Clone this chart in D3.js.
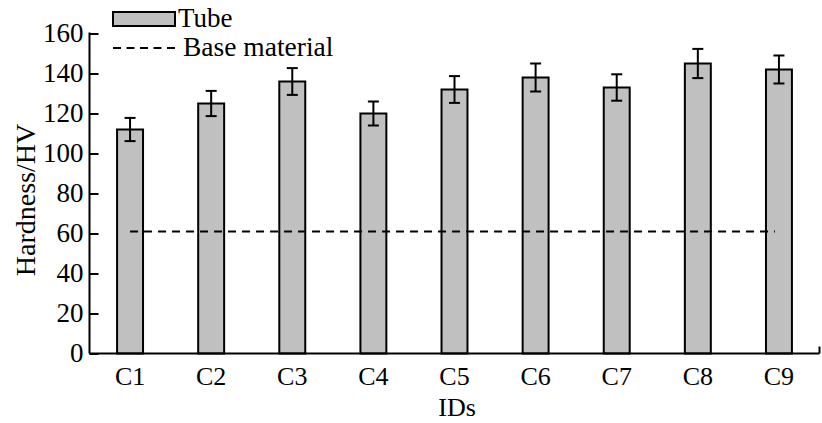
<!DOCTYPE html>
<html>
<head>
<meta charset="utf-8">
<script src="https://cdn.jsdelivr.net/npm/d3@7"></script>
<style>
  html, body { margin: 0; padding: 0; background: #fff; }
  svg { display: block; font-family: "Liberation Serif", "DejaVu Serif", serif; }
</style>
</head>
<body>
<svg id="chart" width="822" height="423"></svg>
<script>
// Hardness of tube samples C1–C9 with standard deviation, plus base-material reference
const ids = ["C1", "C2", "C3", "C4", "C5", "C6", "C7", "C8", "C9"];
const hardness = [112, 125, 136, 120, 132, 138, 133, 145, 142];
const hardnessErr = [5.8, 6.3, 6.7, 6.0, 6.7, 7.0, 6.6, 7.3, 7.0];
const baseMaterial = 61;
const yTicks = [0, 20, 40, 60, 80, 100, 120, 140, 160];

const svg = d3.select("#chart");
const plotLeft = 89.5, plotRight = 819.5, plotTop = 33.5, plotBottom = 353.5;

const x = d3.scaleBand()
  .domain(ids)
  .range([plotLeft, plotRight])
  .paddingInner(0.68)
  .paddingOuter(0.34);

const y = d3.scaleLinear().domain([0, 160]).range([plotBottom, plotTop]);

// bars
svg.append("g").selectAll("rect")
  .data(ids)
  .join("rect")
  .attr("x", (d) => x(d))
  .attr("y", (d, i) => y(hardness[i]))
  .attr("width", x.bandwidth())
  .attr("height", (d, i) => y(0) - y(hardness[i]))
  .attr("fill", "#c0c0c0")
  .attr("stroke", "#000")
  .attr("stroke-width", 2);

// error bars
const capW = 11;
const eb = svg.append("g").attr("stroke", "#000").attr("stroke-width", 2);
ids.forEach((d, i) => {
  const cx = x(d) + x.bandwidth() / 2;
  const hi = y(hardness[i] + hardnessErr[i]);
  const lo = y(hardness[i] - hardnessErr[i]);
  eb.append("line").attr("x1", cx).attr("x2", cx).attr("y1", hi).attr("y2", lo);
  eb.append("line").attr("x1", cx - capW / 2).attr("x2", cx + capW / 2).attr("y1", hi).attr("y2", hi);
  eb.append("line").attr("x1", cx - capW / 2).attr("x2", cx + capW / 2).attr("y1", lo).attr("y2", lo);
});

// base material reference line
svg.append("line")
  .attr("x1", x(ids[0]) + x.bandwidth() / 2)
  .attr("x2", x(ids[ids.length - 1]) + x.bandwidth() / 2 - 4)
  .attr("y1", y(baseMaterial))
  .attr("y2", y(baseMaterial))
  .attr("stroke", "#000")
  .attr("stroke-width", 2)
  .attr("stroke-dasharray", "8,6");

// y axis: inward ticks
const yAxis = d3.axisRight(y).tickValues(yTicks).tickSize(9).tickFormat("");
const gy = svg.append("g").attr("transform", `translate(${plotLeft},0)`).call(yAxis);
gy.select(".domain").remove();
gy.selectAll(".tick line").attr("stroke", "#000").attr("stroke-width", 2);
svg.append("line")
  .attr("x1", plotLeft).attr("x2", plotLeft)
  .attr("y1", plotTop - 1).attr("y2", plotBottom)
  .attr("stroke", "#000").attr("stroke-width", 2);
svg.append("g").selectAll("text")
  .data(yTicks)
  .join("text")
  .attr("x", plotLeft - 6)
  .attr("y", (d) => y(d))
  .attr("dy", "0.33em")
  .attr("text-anchor", "end")
  .attr("font-size", 27)
  .text((d) => d);

// x axis
const xAxis = d3.axisBottom(x).tickSize(0).tickPadding(0);
const gx = svg.append("g").attr("transform", `translate(0,${plotBottom})`).call(xAxis);
gx.select(".domain").remove();
gx.selectAll(".tick text")
  .attr("font-family", "Liberation Serif, serif")
  .attr("font-size", 26)
  .attr("fill", "#000")
  .attr("y", 31)
  .attr("dy", 0);
svg.append("line")
  .attr("x1", plotLeft).attr("x2", plotRight)
  .attr("y1", plotBottom).attr("y2", plotBottom)
  .attr("stroke", "#000").attr("stroke-width", 2);
svg.append("line")
  .attr("x1", plotRight).attr("x2", plotRight)
  .attr("y1", plotBottom).attr("y2", plotBottom - 7)
  .attr("stroke", "#000").attr("stroke-width", 2);

// axis titles
svg.append("text")
  .attr("x", 457)
  .attr("y", 416)
  .attr("text-anchor", "middle")
  .attr("font-size", 26)
  .text("IDs");
svg.append("text")
  .attr("transform", `translate(35,200) rotate(-90)`)
  .attr("text-anchor", "middle")
  .attr("font-size", 28)
  .text("Hardness/HV");

// legend
const lg = svg.append("g");
lg.append("rect")
  .attr("x", 113).attr("y", 12).attr("width", 62).attr("height", 14)
  .attr("fill", "#c0c0c0").attr("stroke", "#000").attr("stroke-width", 2);
lg.append("text").attr("x", 178).attr("y", 27).attr("font-size", 27).text("Tube");
lg.append("line")
  .attr("x1", 113).attr("x2", 175).attr("y1", 48).attr("y2", 48)
  .attr("stroke", "#000").attr("stroke-width", 2).attr("stroke-dasharray", "8,5.5");
lg.append("text").attr("x", 183).attr("y", 56).attr("font-size", 27.5).text("Base material");
</script>
</body>
</html>
